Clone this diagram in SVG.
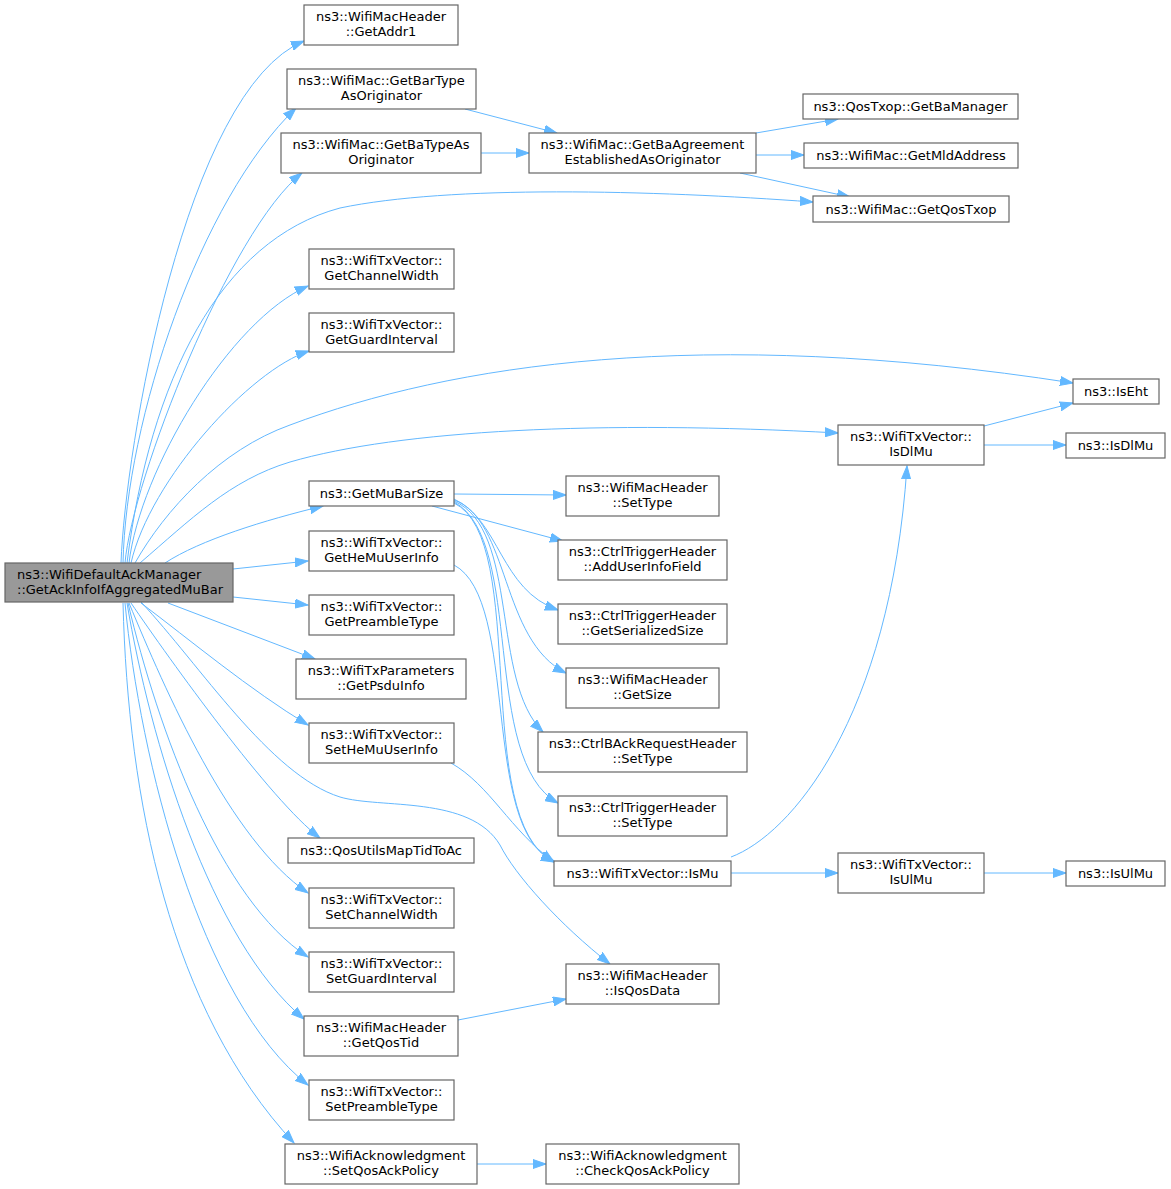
<svg xmlns="http://www.w3.org/2000/svg" width="1171" height="1189" viewBox="0 0 1171 1189">
<style>
.n rect{fill:#ffffff;stroke:#666666;stroke-width:1.2}
.root rect{fill:#999999;stroke:#666666;stroke-width:1.2}
text{font-family:"DejaVu Sans","Liberation Sans",sans-serif;font-size:13px;fill:#000000;text-anchor:middle}
.root text{text-anchor:start}
#edges path{fill:none;stroke:#63b8ff;stroke-width:1;marker-end:url(#ah)}
</style>
<defs>
<marker id="ah" markerWidth="14" markerHeight="10" refX="13" refY="5" orient="auto" markerUnits="userSpaceOnUse">
<path d="M0,0.5 L13,5 L0,9.5 z" fill="#63b8ff" stroke="#63b8ff" stroke-width="1"/>
</marker>
</defs>
<rect width="1171" height="1189" fill="#ffffff"/>
<g id="edges">
<path d="M121,563 C125,450 185,90 304,41"/>
<path d="M123,563 C126,420 200,200 296,108"/>
<path d="M125,563 C132,480 230,230 302,173"/>
<path d="M127,563 C150,380 220,240 340,208 C450,185 650,190 813,202"/>
<path d="M129,563 C140,470 230,320 308,286"/>
<path d="M131,563 C150,480 250,370 309,351"/>
<path d="M135,563 C165,510 220,450 290,425 C450,365 700,325 1073,383"/>
<path d="M140,563 C190,520 230,480 290,462 C400,430 600,420 838,433"/>
<path d="M165,563 C200,540 265,520 323,506"/>
<path d="M233,569 L308,561"/>
<path d="M233,597 L308,605"/>
<path d="M168,603 L315,659"/>
<path d="M141,603 C190,640 250,690 308,725"/>
<path d="M141,602 C200,665 270,775 340,797 C380,809 470,795 500,845 C515,875 560,925 610,964"/>
<path d="M131,603 C170,660 270,800 320,838"/>
<path d="M129,603 C165,690 230,840 308,893"/>
<path d="M128,603 C158,730 220,900 308,957"/>
<path d="M127,603 C150,740 210,940 304,1019"/>
<path d="M125,603 C140,760 200,1000 308,1085"/>
<path d="M123,603 C128,800 170,1010 294,1143"/>
<path d="M454,494 L566,495"/>
<path d="M432,506 L563,541"/>
<path d="M454,499 C500,520 500,590 558,610"/>
<path d="M454,500 C510,520 500,640 566,673"/>
<path d="M454,501 C520,530 490,680 543,732"/>
<path d="M454,502 C525,540 480,760 558,803"/>
<path d="M454,503 C530,540 470,820 554,862"/>
<path d="M454,565 C520,600 480,830 554,861"/>
<path d="M451,763 C490,785 510,830 554,862"/>
<path d="M731,857 C790,835 890,720 907,466"/>
<path d="M731,873 L838,873"/>
<path d="M984,873 L1066,873"/>
<path d="M984,426 L1073,403"/>
<path d="M984,445 L1066,445"/>
<path d="M465,109 L557,133"/>
<path d="M481,153 L529,153"/>
<path d="M756,133 L838,119"/>
<path d="M756,155 L804,155"/>
<path d="M740,173 L850,197"/>
<path d="M458,1020 L566,999"/>
<path d="M477,1164 L546,1164"/>
</g>
<g id="root" class="root"><rect x="5" y="563" width="228" height="39"/><text x="17" y="578.5">ns3::WifiDefaultAckManager</text><text x="17" y="593.5">::GetAckInfoIfAggregatedMuBar</text></g>
<g id="n_getaddr1" class="n"><rect x="304" y="5" width="154" height="40"/><text x="381" y="20.5">ns3::WifiMacHeader</text><text x="381" y="35.5">::GetAddr1</text></g>
<g id="n_getbartype" class="n"><rect x="287" y="69" width="189" height="40"/><text x="381.5" y="84.5">ns3::WifiMac::GetBarType</text><text x="381.5" y="99.5">AsOriginator</text></g>
<g id="n_getbatype" class="n"><rect x="281" y="133" width="200" height="40"/><text x="381" y="148.5">ns3::WifiMac::GetBaTypeAs</text><text x="381" y="163.5">Originator</text></g>
<g id="n_getchannelwidth" class="n"><rect x="309" y="249" width="145" height="40"/><text x="381.5" y="264.5">ns3::WifiTxVector::</text><text x="381.5" y="279.5">GetChannelWidth</text></g>
<g id="n_getguardinterval" class="n"><rect x="309" y="313" width="145" height="39"/><text x="381.5" y="328.5">ns3::WifiTxVector::</text><text x="381.5" y="343.5">GetGuardInterval</text></g>
<g id="n_getmubarsize" class="n"><rect x="309" y="481" width="145" height="25"/><text x="381.5" y="498">ns3::GetMuBarSize</text></g>
<g id="n_gethemuuserinfo" class="n"><rect x="309" y="531" width="145" height="40"/><text x="381.5" y="546.5">ns3::WifiTxVector::</text><text x="381.5" y="561.5">GetHeMuUserInfo</text></g>
<g id="n_getpreambletype" class="n"><rect x="309" y="595" width="145" height="40"/><text x="381.5" y="610.5">ns3::WifiTxVector::</text><text x="381.5" y="625.5">GetPreambleType</text></g>
<g id="n_getpsduinfo" class="n"><rect x="296" y="659" width="170" height="40"/><text x="381" y="674.5">ns3::WifiTxParameters</text><text x="381" y="689.5">::GetPsduInfo</text></g>
<g id="n_sethemuuserinfo" class="n"><rect x="309" y="723" width="145" height="40"/><text x="381.5" y="738.5">ns3::WifiTxVector::</text><text x="381.5" y="753.5">SetHeMuUserInfo</text></g>
<g id="n_qosutils" class="n"><rect x="288" y="838" width="186" height="25"/><text x="381" y="855">ns3::QosUtilsMapTidToAc</text></g>
<g id="n_setchannelwidth" class="n"><rect x="309" y="888" width="145" height="40"/><text x="381.5" y="903.5">ns3::WifiTxVector::</text><text x="381.5" y="918.5">SetChannelWidth</text></g>
<g id="n_setguardinterval" class="n"><rect x="309" y="952" width="145" height="40"/><text x="381.5" y="967.5">ns3::WifiTxVector::</text><text x="381.5" y="982.5">SetGuardInterval</text></g>
<g id="n_getqostid" class="n"><rect x="304" y="1016" width="154" height="40"/><text x="381" y="1031.5">ns3::WifiMacHeader</text><text x="381" y="1046.5">::GetQosTid</text></g>
<g id="n_setpreambletype" class="n"><rect x="309" y="1080" width="145" height="40"/><text x="381.5" y="1095.5">ns3::WifiTxVector::</text><text x="381.5" y="1110.5">SetPreambleType</text></g>
<g id="n_setqosackpolicy" class="n"><rect x="285" y="1144" width="192" height="40"/><text x="381" y="1159.5">ns3::WifiAcknowledgment</text><text x="381" y="1174.5">::SetQosAckPolicy</text></g>
<g id="n_getbaagreement" class="n"><rect x="529" y="133" width="227" height="40"/><text x="642.5" y="148.5">ns3::WifiMac::GetBaAgreement</text><text x="642.5" y="163.5">EstablishedAsOriginator</text></g>
<g id="n_getbamanager" class="n"><rect x="803" y="94" width="215" height="25"/><text x="910.5" y="111">ns3::QosTxop::GetBaManager</text></g>
<g id="n_getmldaddress" class="n"><rect x="804" y="143" width="214" height="25"/><text x="911" y="160">ns3::WifiMac::GetMldAddress</text></g>
<g id="n_getqostxop" class="n"><rect x="813" y="196" width="196" height="26"/><text x="911" y="213.5">ns3::WifiMac::GetQosTxop</text></g>
<g id="n_iseht" class="n"><rect x="1073" y="379" width="86" height="25"/><text x="1116" y="396">ns3::IsEht</text></g>
<g id="n_txv_isdlmu" class="n"><rect x="838" y="425" width="146" height="40"/><text x="911" y="440.5">ns3::WifiTxVector::</text><text x="911" y="455.5">IsDlMu</text></g>
<g id="n_isdlmu" class="n"><rect x="1066" y="433" width="99" height="25"/><text x="1115.5" y="450">ns3::IsDlMu</text></g>
<g id="n_mh_settype" class="n"><rect x="566" y="476" width="153" height="40"/><text x="642.5" y="491.5">ns3::WifiMacHeader</text><text x="642.5" y="506.5">::SetType</text></g>
<g id="n_adduserinfofield" class="n"><rect x="558" y="540" width="169" height="40"/><text x="642.5" y="555.5">ns3::CtrlTriggerHeader</text><text x="642.5" y="570.5">::AddUserInfoField</text></g>
<g id="n_getserializedsize" class="n"><rect x="558" y="604" width="169" height="40"/><text x="642.5" y="619.5">ns3::CtrlTriggerHeader</text><text x="642.5" y="634.5">::GetSerializedSize</text></g>
<g id="n_getsize" class="n"><rect x="566" y="668" width="153" height="40"/><text x="642.5" y="683.5">ns3::WifiMacHeader</text><text x="642.5" y="698.5">::GetSize</text></g>
<g id="n_bar_settype" class="n"><rect x="538" y="732" width="209" height="40"/><text x="642.5" y="747.5">ns3::CtrlBAckRequestHeader</text><text x="642.5" y="762.5">::SetType</text></g>
<g id="n_trig_settype" class="n"><rect x="558" y="796" width="169" height="40"/><text x="642.5" y="811.5">ns3::CtrlTriggerHeader</text><text x="642.5" y="826.5">::SetType</text></g>
<g id="n_ismu" class="n"><rect x="554" y="861" width="177" height="25"/><text x="642.5" y="878">ns3::WifiTxVector::IsMu</text></g>
<g id="n_txv_isulmu" class="n"><rect x="838" y="853" width="146" height="40"/><text x="911" y="868.5">ns3::WifiTxVector::</text><text x="911" y="883.5">IsUlMu</text></g>
<g id="n_isulmu" class="n"><rect x="1066" y="861" width="99" height="25"/><text x="1115.5" y="878">ns3::IsUlMu</text></g>
<g id="n_isqosdata" class="n"><rect x="566" y="964" width="153" height="40"/><text x="642.5" y="979.5">ns3::WifiMacHeader</text><text x="642.5" y="994.5">::IsQosData</text></g>
<g id="n_checkqosackpolicy" class="n"><rect x="546" y="1144" width="193" height="40"/><text x="642.5" y="1159.5">ns3::WifiAcknowledgment</text><text x="642.5" y="1174.5">::CheckQosAckPolicy</text></g>
</svg>
